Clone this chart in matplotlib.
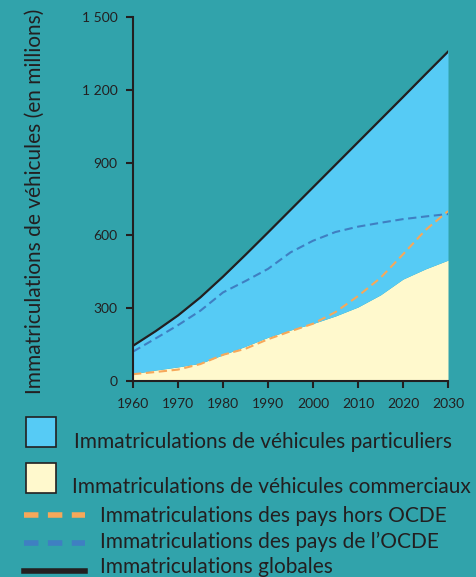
import numpy as np
from matplotlib import pyplot as plt
from matplotlib.patches import Rectangle
from matplotlib.lines import Line2D

# data (millions of vehicles)
years = [1960, 1965, 1970, 1975, 1980, 1985, 1990, 1995, 2000, 2005, 2010, 2015, 2020, 2025, 2030]
globales = [145, 205, 270, 345, 430, 520, 612, 705, 798, 891, 984, 1077, 1170, 1264, 1357]
commerciaux = [30, 45, 58, 73, 108, 143, 180, 210, 237, 268, 305, 355, 420, 462, 498]
ocde = [121, 175, 230, 290, 365, 412, 462, 530, 578, 614, 636, 652, 667, 678, 688]
hors_ocde = [28, 37, 47, 70, 108, 133, 172, 205, 236, 284, 350, 425, 522, 622, 700]

xticks = [1960, 1970, 1980, 1990, 2000, 2010, 2020, 2030]
yticks = [0, 300, 600, 900, 1200, 1500]
ytick_labels = ['0', '300', '600', '900', '1 200', '1 500']

legend_labels = ['Immatriculations de véhicules particuliers',
                 'Immatriculations de véhicules commerciaux',
                 'Immatriculations des pays hors OCDE',
                 'Immatriculations des pays de l\u2019OCDE',
                 'Immatriculations globales']

bg = '#31a3ab'
dark = '#231f20'
c_blue = '#56cbf5'
c_yellow = '#fff9cd'
c_orange = '#f6a85a'
c_ocde = '#3f7fc2'

W, H = 477, 577
plt.rcParams['font.family'] = ['Lato', 'DejaVu Sans']

fig = plt.figure(figsize=(W / 100, H / 100), dpi=100, facecolor=bg)
ax = fig.add_axes([133 / W, 1 - 381 / H, (448 - 133) / W, (381 - 17) / H])
ax.set_facecolor(bg)

ax.fill_between(years, 0, commerciaux, color=c_yellow, lw=0)
ax.fill_between(years, commerciaux, globales, color=c_blue, lw=0)
ax.plot(years, ocde, color=c_ocde, lw=1.5, dashes=(4, 2.2))
ax.plot(years, hors_ocde, color=c_orange, lw=1.5, dashes=(4, 2.2))
ax.plot(years, globales, color=dark, lw=1.6)

ax.set_xlim(1960, 2030)
ax.set_ylim(0, 1500)
ax.set_xticks(xticks)
ax.set_yticks(yticks)
ax.set_yticklabels(ytick_labels)
for s in ['top', 'right']:
    ax.spines[s].set_visible(False)
for s in ['left', 'bottom']:
    ax.spines[s].set_color(dark)
    ax.spines[s].set_linewidth(1.5)
ax.tick_params(axis='both', colors=dark, width=1.5, length=5, labelsize=10)
ax.tick_params(axis='x', pad=7)
ax.tick_params(axis='y', pad=6)

fig.text(35 / W, 1 - 201 / H, 'Immatriculations de véhicules (en millions)',
         rotation=90, ha='center', va='center', fontsize=15, color=dark)

# legend drawn by hand, positions in pixels
def fx(x):
    return x / W

def fy(y):
    return 1 - y / H

for top, col in [(417, c_blue), (463, c_yellow)]:
    fig.add_artist(Rectangle((fx(26), fy(top + 30)), 30 / W, 30 / H, transform=fig.transFigure,
                             facecolor=col, edgecolor=dark, lw=1.2))

for y, col, ls in [(515, c_orange, (2.6, 1.7)), (543, c_ocde, (2.6, 1.7)), (571, dark, None)]:
    ln = Line2D([fx(24), fx(85)], [fy(y), fy(y)], transform=fig.transFigure, color=col, lw=4)
    if ls:
        ln.set_dashes(ls)
    fig.add_artist(ln)

text_pos = [(74, 448), (72, 493), (100, 522), (100, 548), (100, 573)]
for (x, y), lab in zip(text_pos, legend_labels):
    fig.text(fx(x), fy(y), lab, ha='left', va='baseline', fontsize=15, color=dark)

fig.savefig('out.png', dpi=100, facecolor=bg)
